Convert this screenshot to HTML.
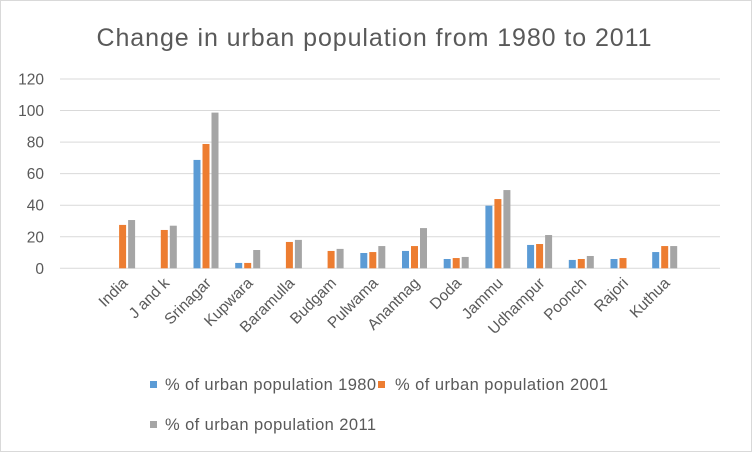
<!DOCTYPE html>
<html><head><meta charset="utf-8"><style>
body{margin:0;background:#fff;}
svg{display:block;font-family:"Liberation Sans",sans-serif;}
</style></head><body>
<svg id="chart" width="752" height="452">
<rect x="0.5" y="0.5" width="751" height="451" fill="#fff" stroke="#d9d9d9"/>
<text x="374" y="46" text-anchor="middle" font-size="25" fill="#595959" textLength="555">Change in urban population from 1980 to 2011</text>
<g id="grid"></g><g id="bars"></g><g id="xlabels"></g>
<g>
<rect x="150" y="381" width="7" height="7" fill="#5b9bd5"/>
<text x="165" y="390" font-size="16.5" fill="#595959" textLength="211">% of urban population 1980</text>
<rect x="378" y="381" width="7" height="7" fill="#ed7d31"/>
<text x="395" y="390" font-size="16.5" fill="#595959" textLength="213">% of urban population 2001</text>
<rect x="150" y="421" width="7" height="7" fill="#a5a5a5"/>
<text x="165" y="430" font-size="16.5" fill="#595959" textLength="211">% of urban population 2011</text>
</g>
</svg>
<script>
const categories=["India","J and k","Srinagar","Kupwara","Baramulla","Budgam","Pulwama","Anantnag","Doda","Jammu","Udhampur","Poonch","Rajori","Kuthua"];
const values1980=[0,0,68.7,3.4,0,0,9.7,11,5.9,39.7,14.8,5.3,5.9,10.3];
const values2001=[27.5,24.3,78.8,3.4,16.7,11,10.3,14.1,6.5,43.9,15.4,5.9,6.5,14.1];
const values2011=[30.6,27,98.7,11.6,18,12.3,14.1,25.5,7.2,49.6,21.1,7.8,0,14.1];
const yTicks=[0,20,40,60,80,100,120];
const NS="http://www.w3.org/2000/svg";
const y=v=>268.3-v*(189.3/120);
const x=i=>122.6+i*41.7;
const grid=document.getElementById('grid');
yTicks.forEach(t=>{
  const l=document.createElementNS(NS,'line');
  l.setAttribute('x1',60);l.setAttribute('x2',720);
  l.setAttribute('y1',y(t));l.setAttribute('y2',y(t));
  l.setAttribute('stroke','#d9d9d9');l.setAttribute('stroke-width','1');
  
  
  grid.appendChild(l);
  const tx=document.createElementNS(NS,'text');
  tx.setAttribute('x',44);tx.setAttribute('y',y(t)+5.5);
  tx.setAttribute('text-anchor','end');tx.setAttribute('font-size','15.5');tx.setAttribute('fill','#595959');
  tx.textContent=t;
  
  
  grid.appendChild(tx);
});
const series=[[values1980,'#5b9bd5',-9,'1980'],[values2001,'#ed7d31',0,'2001'],[values2011,'#a5a5a5',9,'2011']];
const bars=document.getElementById('bars');
categories.forEach((c,i)=>{
  series.forEach(([vals,col,off,yr])=>{
    const v=vals[i];
    const r=document.createElementNS(NS,'rect');
    r.setAttribute('x',x(i)+off-3.5);r.setAttribute('width',7);
    r.setAttribute('y',y(v));r.setAttribute('height',Math.max(0,y(0)-y(v)));
    r.setAttribute('fill',col);
    
    
    bars.appendChild(r);
  });
  const t=document.createElementNS(NS,'text');
  const lx=x(i)+6, ly=284;
  t.setAttribute('x',lx);t.setAttribute('y',ly);
  t.setAttribute('text-anchor','end');t.setAttribute('font-size','15.5');t.setAttribute('fill','#595959');
  t.setAttribute('transform','rotate(-45 '+lx+' '+ly+')');
  t.textContent=c;
  
  
  document.getElementById('xlabels').appendChild(t);
});
</script>
</body></html>
